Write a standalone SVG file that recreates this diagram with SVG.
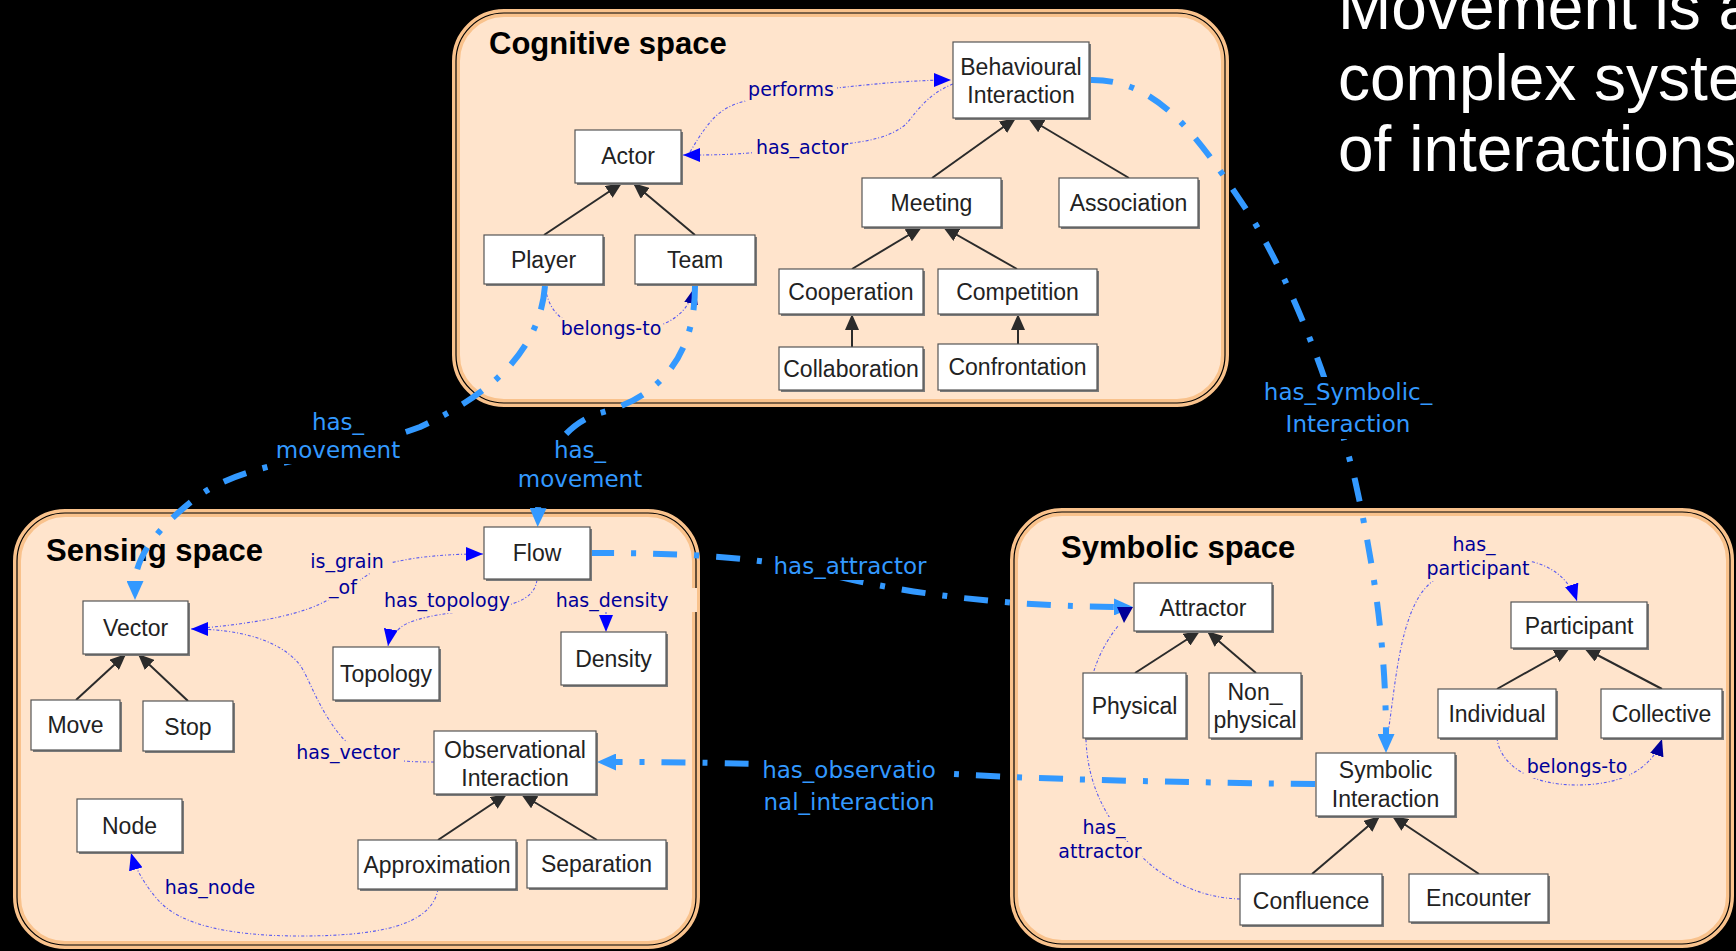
<svg xmlns="http://www.w3.org/2000/svg" width="1736" height="951" viewBox="0 0 1736 951">
<defs>
<style>
.panel{fill:#FFE4CC;stroke:#F9C28C;stroke-width:8}
.pline{fill:none;stroke:#000;stroke-width:1.2}
.ttl{font-family:"Liberation Sans",Arial,sans-serif;font-size:31px;font-weight:bold;fill:#000}
.big{font-family:"Liberation Sans",Arial,sans-serif;font-size:64px;fill:#fff}
.box{fill:#fff;stroke:#555;stroke-width:1.2}
.sh{fill:#7a7a7a}
.nl{font-family:"Liberation Sans",Arial,sans-serif;font-size:23px;fill:#222;text-anchor:middle}
.gen{stroke:#2b2b2b;stroke-width:2;fill:none;marker-end:url(#mBlk)}
.dd{stroke:#3399FF;stroke-width:6;fill:none;stroke-dasharray:24 17 5 17;marker-end:url(#mLB)}
.dot{stroke:#5b5bf0;stroke-width:1.1;fill:none;stroke-dasharray:3 2 1 2}
.ab{marker-end:url(#mB)}
.an{marker-end:url(#mN)}
.pl{font-family:"DejaVu Sans",Verdana,sans-serif;font-size:19px;fill:#000099;text-anchor:middle}
.rl{font-family:"DejaVu Sans",Verdana,sans-serif;font-size:23px;fill:#3399FF;text-anchor:middle}
.bgp{fill:#FFE4CC}
.bgb{fill:#000}
</style>
<marker id="mBlk" markerUnits="userSpaceOnUse" markerWidth="16" markerHeight="14" refX="16" refY="7" orient="auto"><path d="M0,0 L16,7 L0,14 z" fill="#2b2b2b"/></marker>
<marker id="mLB" markerUnits="userSpaceOnUse" markerWidth="19" markerHeight="17" refX="4" refY="8.5" orient="auto"><path d="M0,0 L19,8.5 L0,17 z" fill="#3399FF"/></marker>
<marker id="mB" markerUnits="userSpaceOnUse" markerWidth="17" markerHeight="14" refX="17" refY="7" orient="auto"><path d="M0,0 L17,7 L0,14 z" fill="#0000FF"/></marker>
<marker id="mN" markerUnits="userSpaceOnUse" markerWidth="17" markerHeight="14" refX="17" refY="7" orient="auto"><path d="M0,0 L17,7 L0,14 z" fill="#000099"/></marker>
</defs>
<rect x="0" y="0" width="1736" height="951" fill="#000"/>

<g id="title">
<text class="big" x="1338" y="29">Movement is a</text>
<text class="big" x="1338" y="100">complex system</text>
<text class="big" x="1338" y="171">of interactions</text>
</g>

<g id="panels">
<g id="panel-cognitive">
<rect class="panel" x="456" y="13" width="769" height="390" rx="48"/>
<rect class="pline" x="456" y="13" width="769" height="390" rx="48"/>
<text class="ttl" x="489" y="54">Cognitive space</text>
</g>
<g id="panel-sensing">
<rect class="panel" x="17" y="513" width="679" height="432" rx="48"/>
<rect class="pline" x="17" y="513" width="679" height="432" rx="48"/>
<text class="ttl" x="46" y="561">Sensing space</text>
</g>
<g id="panel-symbolic">
<rect class="panel" x="1014" y="512" width="716" height="432" rx="48"/>
<rect class="pline" x="1014" y="512" width="716" height="432" rx="48"/>
<text class="ttl" x="1061" y="558">Symbolic space</text>
</g>
</g>

<g id="connectors">
<!-- generalization -->
<path class="gen" d="M544,235 L622,183"/>
<path class="gen" d="M695,235 L633,183"/>
<path class="gen" d="M932,178 L1016,118"/>
<path class="gen" d="M1129,178 L1028,118"/>
<path class="gen" d="M852,269 L922,227"/>
<path class="gen" d="M1017,269 L943,227"/>
<path class="gen" d="M852,347 L852,314"/>
<path class="gen" d="M1018,344 L1018,314"/>
<path class="gen" d="M76,700 L126,654"/>
<path class="gen" d="M188,701 L138,654"/>
<path class="gen" d="M438,840 L507,794"/>
<path class="gen" d="M597,840 L521,794"/>
<path class="gen" d="M1135,673 L1200,631"/>
<path class="gen" d="M1256,673 L1207,631"/>
<path class="gen" d="M1497,689 L1570,648"/>
<path class="gen" d="M1662,689 L1584,648"/>
<path class="gen" d="M1312,874 L1380,816"/>
<path class="gen" d="M1479,874 L1392,816"/>

<!-- dotted property links -->
<path class="dot ab" d="M690,152 C712,115 722,104 760,98 C830,88 900,80 951,80"/>
<path class="dot ab" d="M953,84 C925,95 915,115 905,125 C890,137 870,141 845,144 L760,152 C730,155 710,155 683,155"/>
<path class="dot an" d="M545,286 C548,306 556,318 575,325 L650,328 C675,323 690,308 695,287"/>
<path class="dot ab" d="M191,629 C240,625 290,618 320,604 C350,590 370,570 390,563 C420,556 450,554 483,554"/>
<path class="dot ab" d="M434,762 C400,762 360,760 340,735 C318,708 310,680 300,665 C280,640 240,629 191,629"/>
<path class="dot ab" d="M537,580 C535,592 528,600 505,606 C460,612 415,615 400,628 C392,635 389,640 388,646"/>
<path class="dot ab" d="M606,611 L606,632"/>
<path class="dot ab" d="M438,889 C432,925 380,936 300,936 C230,936 180,925 158,900 C145,885 136,870 131,853"/>
<path class="dot ab" d="M1387,740 C1395,690 1398,630 1420,595 C1440,565 1480,560 1520,560 C1550,562 1570,580 1577,601"/>
<path class="dot an" d="M1497,738 C1500,765 1530,785 1577,785 C1620,785 1652,770 1662,739"/>
<path class="dot" d="M1240,899 C1200,898 1165,880 1140,855 C1110,825 1088,790 1086,740 C1084,690 1095,655 1118,626"/>

<!-- dash-dot relations -->
<path class="dd" d="M545,286 C540,345 500,390 420,427 C330,460 250,460 200,495 C160,525 135,555 135,585"/>
<path class="dd" d="M695,286 C695,365 650,400 600,413 C560,425 539,465 538,512"/>
<path class="dd" d="M1089,80 C1160,78 1200,140 1250,215 C1290,280 1330,380 1355,480 C1375,570 1386,650 1386,738"/>
<path class="dd" d="M590,553 C700,553 760,558 820,572 C880,588 980,606 1118,607"/>
<path class="dd" d="M1315,784 C1150,782 1000,778 940,773 C850,767 750,762 612,762"/>
<polygon points="1117,607 1133,607 1124,623" fill="#000099"/>

<!-- labels: dotted -->
<rect class="bgp" x="745" y="79" width="92" height="22"/>
<text class="pl" x="791" y="96">performs</text>
<rect class="bgp" x="754" y="137" width="96" height="22"/>
<text class="pl" x="802" y="154">has_actor</text>
<rect class="bgp" x="559" y="318" width="104" height="23"/>
<text class="pl" x="611" y="335">belongs-to</text>
<rect class="bgp" x="302" y="551" width="90" height="22"/>
<text class="pl" x="347" y="568">is_grain</text>
<rect class="bgp" x="326" y="578" width="34" height="22"/>
<text class="pl" x="343" y="594">_of</text>
<rect class="bgp" x="383" y="590" width="128" height="23"/>
<text class="pl" x="447" y="607">has_topology</text>
<rect class="bgp" x="555" y="588" width="142" height="24"/>
<text class="pl" x="612" y="607">has_density</text>
<rect class="bgp" x="294" y="742" width="108" height="23"/>
<text class="pl" x="348" y="759">has_vector</text>
<rect class="bgp" x="162" y="877" width="97" height="23"/>
<text class="pl" x="210" y="894">has_node</text>
<rect class="bgp" x="1452" y="534" width="44" height="22"/>
<text class="pl" x="1474" y="551">has_</text>
<rect class="bgp" x="1426" y="558" width="104" height="23"/>
<text class="pl" x="1478" y="575">participant</text>
<rect class="bgp" x="1525" y="756" width="104" height="22"/>
<text class="pl" x="1577" y="773">belongs-to</text>
<rect class="bgp" x="1080" y="817" width="48" height="22"/>
<text class="pl" x="1104" y="834">has_</text>
<rect class="bgp" x="1058" y="842" width="84" height="22"/>
<text class="pl" x="1100" y="858">attractor</text>

<!-- labels: relations -->
<rect class="bgb" x="272" y="406" width="132" height="58"/>
<text class="rl" x="338" y="430">has_</text>
<text class="rl" x="338" y="458">movement</text>
<rect class="bgb" x="514" y="436" width="132" height="58"/>
<text class="rl" x="580" y="458">has_</text>
<text class="rl" x="580" y="487">movement</text>
<rect class="bgb" x="1256" y="377" width="184" height="62"/>
<text class="rl" x="1348" y="400">has_Symbolic_</text>
<text class="rl" x="1348" y="432">Interaction</text>
<rect class="bgb" x="768" y="553" width="164" height="27"/>
<text class="rl" x="850" y="574">has_attractor</text>
<rect class="bgb" x="758" y="756" width="182" height="62"/>
<text class="rl" x="849" y="778">has_observatio</text>
<text class="rl" x="849" y="810">nal_interaction</text>
</g>

<g id="nodes">
<g id="node-behavioural-interaction"><rect class="sh" x="955" y="44" width="136" height="76"/><rect class="box" x="953" y="42" width="136" height="76"/><text class="nl" x="1021" y="75">Behavioural</text><text class="nl" x="1021" y="103">Interaction</text></g>
<g id="node-actor"><rect class="sh" x="577" y="132" width="106" height="53"/><rect class="box" x="575" y="130" width="106" height="53"/><text class="nl" x="628" y="164">Actor</text></g>
<g id="node-meeting"><rect class="sh" x="864" y="180" width="139" height="49"/><rect class="box" x="862" y="178" width="139" height="49"/><text class="nl" x="931.5" y="211">Meeting</text></g>
<g id="node-association"><rect class="sh" x="1061" y="180" width="139" height="49"/><rect class="box" x="1059" y="178" width="139" height="49"/><text class="nl" x="1128.5" y="211">Association</text></g>
<g id="node-player"><rect class="sh" x="486" y="237" width="119" height="49"/><rect class="box" x="484" y="235" width="119" height="49"/><text class="nl" x="543.5" y="268">Player</text></g>
<g id="node-team"><rect class="sh" x="637" y="237" width="120" height="49"/><rect class="box" x="635" y="235" width="120" height="49"/><text class="nl" x="695" y="268">Team</text></g>
<g id="node-cooperation"><rect class="sh" x="781" y="271" width="144" height="45"/><rect class="box" x="779" y="269" width="144" height="45"/><text class="nl" x="851" y="300">Cooperation</text></g>
<g id="node-competition"><rect class="sh" x="940" y="271" width="159" height="45"/><rect class="box" x="938" y="269" width="159" height="45"/><text class="nl" x="1017.5" y="300">Competition</text></g>
<g id="node-collaboration"><rect class="sh" x="781" y="349" width="144" height="43"/><rect class="box" x="779" y="347" width="144" height="43"/><text class="nl" x="851" y="377">Collaboration</text></g>
<g id="node-confrontation"><rect class="sh" x="940" y="346" width="159" height="46"/><rect class="box" x="938" y="344" width="159" height="46"/><text class="nl" x="1017.5" y="375">Confrontation</text></g>

<g id="node-flow"><rect class="sh" x="486" y="529" width="106" height="52"/><rect class="box" x="484" y="527" width="106" height="52"/><text class="nl" x="537" y="561">Flow</text></g>
<g id="node-vector"><rect class="sh" x="85" y="603" width="105" height="53"/><rect class="box" x="83" y="601" width="105" height="53"/><text class="nl" x="135.5" y="636">Vector</text></g>
<g id="node-topology"><rect class="sh" x="335" y="649" width="106" height="53"/><rect class="box" x="333" y="647" width="106" height="53"/><text class="nl" x="386" y="682">Topology</text></g>
<g id="node-density"><rect class="sh" x="563" y="634" width="105" height="53"/><rect class="box" x="561" y="632" width="105" height="53"/><text class="nl" x="613.5" y="667">Density</text></g>
<g id="node-move"><rect class="sh" x="33" y="702" width="89" height="50"/><rect class="box" x="31" y="700" width="89" height="50"/><text class="nl" x="75.5" y="733">Move</text></g>
<g id="node-stop"><rect class="sh" x="145" y="703" width="90" height="50"/><rect class="box" x="143" y="701" width="90" height="50"/><text class="nl" x="188" y="735">Stop</text></g>
<g id="node-node"><rect class="sh" x="79" y="801" width="105" height="53"/><rect class="box" x="77" y="799" width="105" height="53"/><text class="nl" x="129.5" y="834">Node</text></g>
<g id="node-observational-interaction"><rect class="sh" x="436" y="733" width="162" height="63"/><rect class="box" x="434" y="731" width="162" height="63"/><text class="nl" x="515" y="758">Observational</text><text class="nl" x="515" y="786">Interaction</text></g>
<g id="node-approximation"><rect class="sh" x="360" y="842" width="158" height="49"/><rect class="box" x="358" y="840" width="158" height="49"/><text class="nl" x="437" y="873">Approximation</text></g>
<g id="node-separation"><rect class="sh" x="529" y="842" width="139" height="48"/><rect class="box" x="527" y="840" width="139" height="48"/><text class="nl" x="596.5" y="872">Separation</text></g>

<g id="node-attractor"><rect class="sh" x="1136" y="585" width="138" height="48"/><rect class="box" x="1134" y="583" width="138" height="48"/><text class="nl" x="1203" y="616">Attractor</text></g>
<g id="node-physical"><rect class="sh" x="1085" y="675" width="103" height="65"/><rect class="box" x="1083" y="673" width="103" height="65"/><text class="nl" x="1134.5" y="714">Physical</text></g>
<g id="node-non-physical"><rect class="sh" x="1211" y="675" width="92" height="65"/><rect class="box" x="1209" y="673" width="92" height="65"/><text class="nl" x="1255" y="700">Non_</text><text class="nl" x="1255" y="728">physical</text></g>
<g id="node-participant"><rect class="sh" x="1513" y="604" width="136" height="46"/><rect class="box" x="1511" y="602" width="136" height="46"/><text class="nl" x="1579" y="634">Participant</text></g>
<g id="node-individual"><rect class="sh" x="1440" y="691" width="118" height="49"/><rect class="box" x="1438" y="689" width="118" height="49"/><text class="nl" x="1497" y="722">Individual</text></g>
<g id="node-collective"><rect class="sh" x="1603" y="691" width="121" height="49"/><rect class="box" x="1601" y="689" width="121" height="49"/><text class="nl" x="1661.5" y="722">Collective</text></g>
<g id="node-symbolic-interaction"><rect class="sh" x="1318" y="755" width="139" height="63"/><rect class="box" x="1316" y="753" width="139" height="63"/><text class="nl" x="1385.5" y="778">Symbolic</text><text class="nl" x="1385.5" y="807">Interaction</text></g>
<g id="node-confluence"><rect class="sh" x="1242" y="876" width="142" height="51"/><rect class="box" x="1240" y="874" width="142" height="51"/><text class="nl" x="1311" y="909">Confluence</text></g>
<g id="node-encounter"><rect class="sh" x="1411" y="876" width="139" height="48"/><rect class="box" x="1409" y="874" width="139" height="48"/><text class="nl" x="1478.5" y="906">Encounter</text></g>
</g>
</svg>
